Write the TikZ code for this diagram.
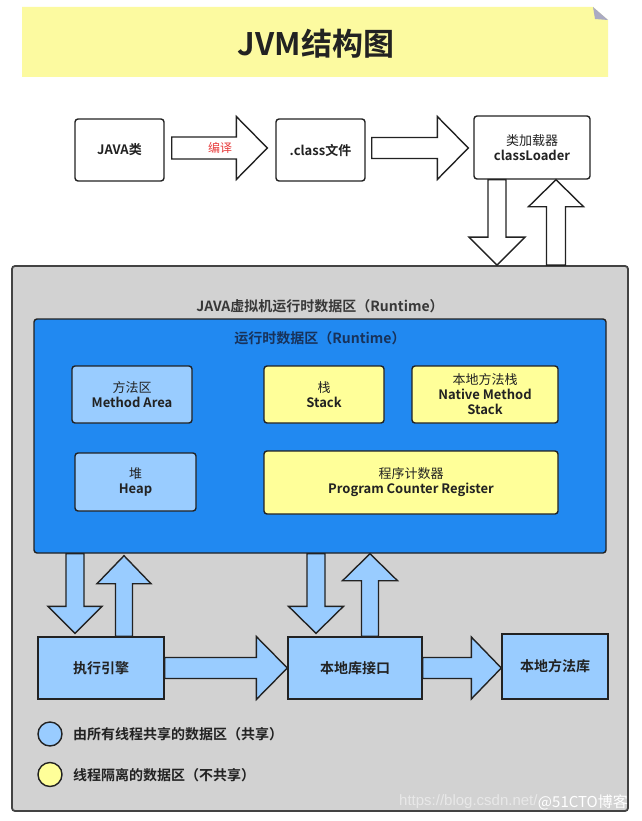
\documentclass[tikz,border=0pt]{standalone}
\usepackage{fontspec}
\setmainfont{Noto Sans CJK SC}[BoldFont={Noto Sans CJK SC Bold}]
\newfontfamily\wmfont{Liberation Sans}
\usetikzlibrary{calc}
\definecolor{grayfill}{RGB}{210,210,210}
\definecolor{rtblue}{RGB}{33,137,241}
\definecolor{lblue}{RGB}{153,204,255}
\definecolor{lyellow}{RGB}{255,255,153}
\definecolor{bannercol}{RGB}{252,250,160}
\definecolor{foldcol}{RGB}{170,170,195}
\definecolor{ink}{RGB}{34,34,34}
\definecolor{navy}{RGB}{24,50,90}
\definecolor{redtxt}{RGB}{232,60,60}
\definecolor{wmgray}{RGB}{232,232,232}

% horizontal block arrow: tip at #2, centre line at y of #1
\newcommand\blkright[6]{\draw[#6] let \p1=#1, \p2=#2 in
 (\x1,{\y1+#3pt}) -- ({\x2-#5pt},{\y1+#3pt}) -- ({\x2-#5pt},{\y1+#4pt}) -- (\x2,\y1)
 -- ({\x2-#5pt},{\y1-#4pt}) -- ({\x2-#5pt},{\y1-#3pt}) -- (\x1,{\y1-#3pt}) -- cycle;}
% downward block arrow at x=#1, from #2 (top) to tip at #3 (bottom)
\newcommand\blkdown[7]{\draw[#7] let \p1=#2, \p2=#3 in
 ({#1pt-#4pt},\y1) -- ({#1pt-#4pt},{\y2+#6pt}) -- ({#1pt-#5pt},{\y2+#6pt}) -- (#1pt,\y2)
 -- ({#1pt+#5pt},{\y2+#6pt}) -- ({#1pt+#4pt},{\y2+#6pt}) -- ({#1pt+#4pt},\y1) -- cycle;}
% upward block arrow at x=#1, from #2 (bottom) to tip at #3 (top)
\newcommand\blkup[7]{\draw[#7] let \p1=#2, \p2=#3 in
 ({#1pt-#4pt},\y1) -- ({#1pt-#4pt},{\y2-#6pt}) -- ({#1pt-#5pt},{\y2-#6pt}) -- (#1pt,\y2)
 -- ({#1pt+#5pt},{\y2-#6pt}) -- ({#1pt+#4pt},{\y2-#6pt}) -- ({#1pt+#4pt},\y1) -- cycle;}

\begin{document}
\begin{tikzpicture}[x=1pt,y=-1pt,
  basebox/.style={draw=ink,line width=1.4pt,inner sep=0pt,align=center,text=ink},
  wbox/.style={basebox,fill=white,rounded corners=3pt,font=\fontsize{13}{15}\selectfont\bfseries},
  bbox/.style={basebox,fill=lblue,rounded corners=3pt,font=\fontsize{13}{15}\selectfont\bfseries},
  ybox/.style={basebox,fill=lyellow,rounded corners=3pt,font=\fontsize{13}{15}\selectfont\bfseries},
  sbox/.style={basebox,fill=lblue,font=\fontsize{14}{16}\selectfont\bfseries},
  warrow/.style={draw=ink,line width=1.4pt,fill=white,line join=miter},
  barrow/.style={draw=ink,line width=1.4pt,fill=lblue,line join=miter},
  legdot/.style={circle,draw=ink,line width=1.4pt,minimum size=24pt,inner sep=0pt},
  legtxt/.style={anchor=west,inner sep=0pt,text=ink,font=\fontsize{14}{16}\selectfont\bfseries},
  ttl/.style={inner sep=0pt,font=\fontsize{14}{16}\selectfont\bfseries}
]
\useasboundingbox (0,0) rectangle (641,821);
\fill[white] (0,0) rectangle (641,821);

% title banner
\fill[bannercol] (22,7) -- (593,7) -- (608,20) -- (608,77) -- (22,77) -- cycle;
\fill[foldcol] (593,7) -- (595,19) -- (608,20) -- cycle;
\node[inner sep=0pt,text=ink,font=\fontsize{31}{33}\selectfont\bfseries] (title) at (316,44) {JVM结构图};

% top row
\node[wbox,minimum width=89pt,minimum height=62pt] (java) at (119.5,150) {JAVA类};
\node[wbox,minimum width=89pt,minimum height=62pt] (cls) at (320.5,150) {.class文件};
\node[wbox,minimum width=116pt,minimum height=63pt] (loader) at (532,147.5) {{\mdseries 类加载器}\\classLoader};

% JVM runtime area
\node[draw=ink!85,line width=1.8pt,fill=grayfill,rounded corners=3pt,minimum width=616pt,minimum height=545pt,inner sep=0pt] (jvm) at (320,538.5) {};
\node[ttl,text=ink!90] (jvmtitle) at (320,306) {JAVA虚拟机运行时数据区（Runtime）};
\node[draw=ink,line width=1.4pt,fill=rtblue,rounded corners=3pt,minimum width=572pt,minimum height=234pt,inner sep=0pt] (rt) at (320,436) {};
\node[ttl,text=navy] (rttitle) at (320,338) {运行时数据区（Runtime）};

\node[bbox,minimum width=120pt,minimum height=57pt] (ma) at (132,394.5) {{\mdseries 方法区}\\Method Area};
\node[ybox,minimum width=120pt,minimum height=57pt] (stack) at (324,394.5) {{\mdseries 栈}\\Stack};
\node[ybox,minimum width=146pt,minimum height=57pt] (native) at (485,394.5) {{\mdseries 本地方法栈}\\Native Method\\Stack};
\node[bbox,minimum width=121pt,minimum height=58pt] (heap) at (135.5,482) {{\mdseries 堆}\\Heap};
\node[ybox,minimum width=294pt,minimum height=63pt] (pcr) at (411,482.5) {{\mdseries 程序计数器}\\Program Counter Register};

% bottom row
\node[sbox,minimum width=126pt,minimum height=62pt] (exe) at (101,668) {执行引擎};
\node[sbox,minimum width=134pt,minimum height=62pt] (jni) at (355,668) {本地库接口};
\node[sbox,minimum width=106pt,minimum height=65pt] (lib) at (555,666.5) {本地方法库};

% top arrows
\blkright{($(java.east)+(7,-2)$)}{($(cls.west)+(-8,0)$)}{11}{31.5}{31}{warrow}
\node[inner sep=0pt,text=redtxt,font=\fontsize{12}{14}\selectfont] (compile) at (220,148) {编译};
\blkright{($(cls.east)+(6,-2)$)}{($(loader.west)+(-5,0)$)}{10.5}{31.5}{31}{warrow}
\blkdown{497}{(loader.south)}{(jvm.north)}{9}{28}{28}{warrow}
\blkup{556}{(jvm.north)}{(loader.south)}{9.5}{27.5}{27}{warrow}

% bottom arrows
\blkdown{75}{(rt.south)}{($(exe.north)+(0,-3)$)}{9}{27}{27}{barrow}
\blkup{124}{(exe.north)}{($(rt.south)+(0,2)$)}{8.5}{27}{28}{barrow}
\blkdown{316}{(rt.south)}{($(jni.north)+(0,-3)$)}{9}{27.5}{27}{barrow}
\blkup{370}{(jni.north)}{(rt.south)}{8.5}{27.5}{27}{barrow}
\blkright{(exe.east)}{(jni.west)}{10.5}{31.5}{31}{barrow}
\blkright{(jni.east)}{(lib.west)}{10.5}{31}{30}{barrow}

% legend
\node[legdot,fill=lblue] (dot1) at (50,734) {};
\node[legtxt] (leg1) at (73,734) {由所有线程共享的数据区（共享）};
\node[legdot,fill=lyellow] (dot2) at (50,774.5) {};
\node[legtxt] (leg2) at (73,775) {线程隔离的数据区（不共享）};

% watermark
\node[anchor=east,inner sep=0pt,text=white,font=\fontsize{15}{16}\selectfont] (wm2) at (628,802) {@51CTO博客};
\node[anchor=east,inner sep=0pt,text=wmgray,font=\wmfont\fontsize{15}{16}\selectfont] (wm1) at (wm2.west) {https://blog.csdn.net/};
\end{tikzpicture}
\end{document}
